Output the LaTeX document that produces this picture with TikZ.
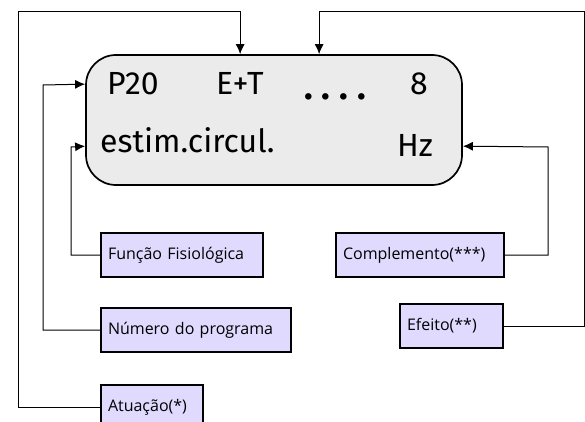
\documentclass[tikz,border=0pt]{standalone}
\usepackage{fontspec}
\setmainfont{Open Sans}
\newfontfamily\lcdfont{Fira Sans}
\usetikzlibrary{arrows.meta,positioning,calc}
\definecolor{lcdgray}{HTML}{EBEBEB}
\definecolor{lavender}{HTML}{E0DAFE}
\tikzset{%
  >={Latex[length=10pt,width=9pt]},
  panel/.style = { rectangle, draw, line width=1.7pt, fill=lcdgray, rounded corners=30pt,
    minimum width=376pt, minimum height=130pt },
  lcd/.style   = { inner sep=0pt, anchor=base west, font=\lcdfont\fontsize{32}{32}\selectfont },
  tag/.style   = { rectangle, draw, line width=2pt, fill=lavender, inner xsep=7pt,
    minimum height=44pt, align=left, font=\fontsize{16}{18}\selectfont },
  link/.style  = { draw, line width=1pt }
}

\begin{document}
\begin{tikzpicture}[x=1pt,y=-1pt]
  \useasboundingbox (0,0) rectangle (585,422);
  % display
  \node[panel] (disp) at (274,120) {};
  \node[lcd] (prog) at (107,95) {P20};
  \node[lcd] (mode) at (216,95) {E+T};
  \node[lcd,font=\lcdfont\bfseries\fontsize{36}{36}\selectfont] (dots) at (304,100)
    {.\hspace{9pt}.\hspace{9pt}.\hspace{9pt}.};
  \node[lcd] (freq) at (410,95) {8};
  \node[lcd] (func) at (100,152) {estim.circul.};
  \node[lcd] (unit) at (397,157) {Hz};
  % labels
  \node[tag,anchor=west,text width=148pt] (fisio) at (100,255) {Função Fisiológica};
  \node[tag,anchor=west,text width=176pt] (numero) at (100,330) {Número do programa};
  \node[tag,anchor=west,text width=88pt] (atua) at (100,407) {Atuação(*)};
  \node[tag,anchor=west,text width=154pt] (compl) at (335,255) {Complemento(***)};
  \node[tag,anchor=west,text width=89pt] (efeito) at (399,326) {Efeito(**)};
  % entry points on the display
  \coordinate (inAtua) at ([xshift=155pt]disp.north west);
  \coordinate (inEfeito) at ([xshift=234pt]disp.north west);
  \coordinate (inNum) at ([yshift=-30pt]disp.north west);
  \coordinate (inFisio) at ([yshift=-92pt]disp.north west);
  \coordinate (inCompl) at ([yshift=-92pt]disp.north east);
  % connectors
  \draw[link,->] (atua.west) -| (18,12) -| (inAtua);
  \draw[link,->] (efeito.east) -| (584,12) -| (inEfeito);
  \draw[link,->] (numero.west) -| (43,85) -- (inNum);
  \draw[link,->] (fisio.west) -| (71,147) -- (inFisio);
  \draw[link,->] (compl.east) -| (548,147) -- (inCompl);
\end{tikzpicture}
\end{document}
